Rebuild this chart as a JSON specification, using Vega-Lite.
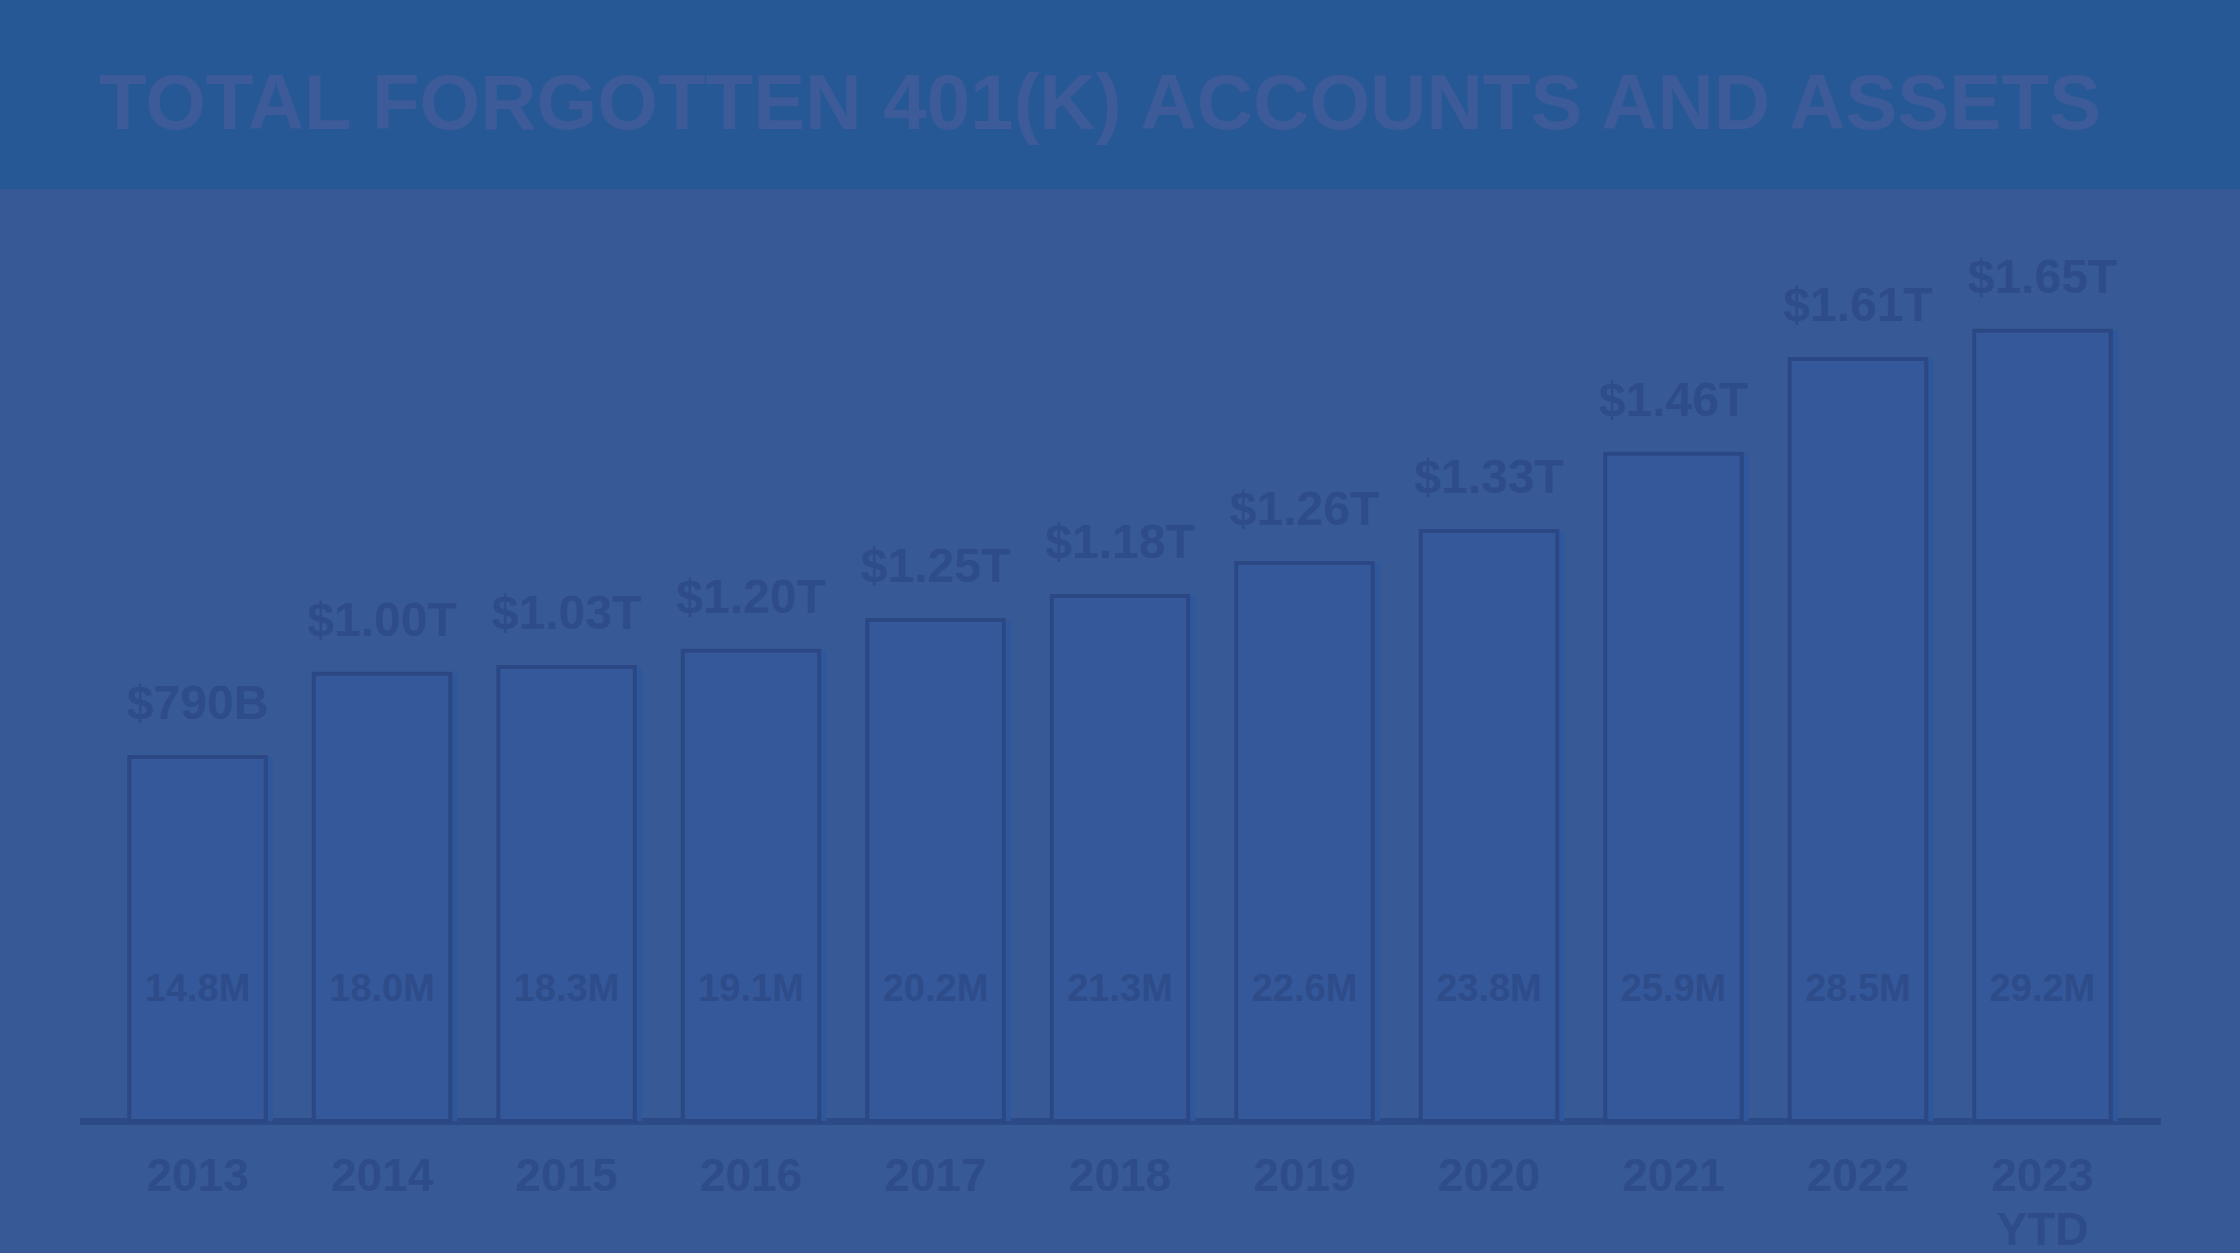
{
  "$schema": "https://vega.github.io/schema/vega-lite/v6.json",
  "description": "Total forgotten 401(k) accounts and assets, 2013 to 2023 YTD.",
  "padding": 0,
  "background": "#375a96",
  "spacing": 0,
  "center": true,
  "vconcat": [
    {
      "width": 2240,
      "height": 189,
      "view": {"fill": "#275896", "stroke": null},
      "data": {"values": [{"title": "TOTAL FORGOTTEN 401(K) ACCOUNTS AND ASSETS"}]},
      "mark": {
        "type": "text",
        "font": "Liberation Sans",
        "fontSize": 78,
        "fontWeight": "bold",
        "color": "#3d5b98",
        "dx": -20,
        "dy": 11
      },
      "encoding": {"text": {"field": "title"}}
    },
    {
      "width": 2081,
      "height": 932,
      "data": {
        "values": [
          {"year": "2013", "drawn": 0.76, "assets": "$790B", "accounts": "14.8M"},
          {"year": "2014", "drawn": 0.934, "assets": "$1.00T", "accounts": "18.0M"},
          {"year": "2015", "drawn": 0.948, "assets": "$1.03T", "accounts": "18.3M"},
          {"year": "2016", "drawn": 0.982, "assets": "$1.20T", "accounts": "19.1M"},
          {"year": "2017", "drawn": 1.046, "assets": "$1.25T", "accounts": "20.2M"},
          {"year": "2018", "drawn": 1.096, "assets": "$1.18T", "accounts": "21.3M"},
          {"year": "2019", "drawn": 1.165, "assets": "$1.26T", "accounts": "22.6M"},
          {"year": "2020", "drawn": 1.232, "assets": "$1.33T", "accounts": "23.8M"},
          {"year": "2021", "drawn": 1.393, "assets": "$1.46T", "accounts": "25.9M"},
          {"year": "2022", "drawn": 1.591, "assets": "$1.61T", "accounts": "28.5M"},
          {"year": "2023 YTD", "drawn": 1.65, "assets": "$1.65T", "accounts": "29.2M"}
        ]
      },
      "encoding": {
        "x": {
          "field": "year",
          "type": "nominal",
          "sort": null,
          "scale": {"paddingInner": 0.26, "paddingOuter": 0.27},
          "axis": {
            "title": null,
            "labelAngle": 0,
            "labelFont": "Liberation Sans",
            "labelFontSize": 46,
            "labelFontWeight": "bold",
            "labelColor": "#2e4c89",
            "labelPadding": 33,
            "labelLineHeight": 54,
            "labelExpr": "split(datum.label, ' ')",
            "ticks": false,
            "domainColor": "#2c4a85",
            "domainWidth": 7
          }
        },
        "y": {
          "field": "drawn",
          "type": "quantitative",
          "scale": {"domain": [0, 1.946], "nice": false},
          "axis": null
        }
      },
      "layer": [
        {
          "mark": {"type": "bar", "fill": "#2f579c", "xOffset": 7}
        },
        {
          "mark": {"type": "bar", "fill": "#34589a", "stroke": "#2b4884", "strokeWidth": 4}
        },
        {
          "mark": {
            "type": "text",
            "font": "Liberation Sans",
            "fontSize": 48,
            "fontWeight": "bold",
            "color": "#2e4c89",
            "baseline": "alphabetic",
            "dy": -38
          },
          "encoding": {"text": {"field": "assets"}}
        },
        {
          "mark": {
            "type": "text",
            "font": "Liberation Sans",
            "fontSize": 38,
            "fontWeight": "bold",
            "color": "#2e4c89",
            "baseline": "middle",
            "dy": -131
          },
          "encoding": {
            "y": {"datum": 0},
            "text": {"field": "accounts"}
          }
        }
      ]
    }
  ],
  "config": {
    "view": {"stroke": null}
  }
}
